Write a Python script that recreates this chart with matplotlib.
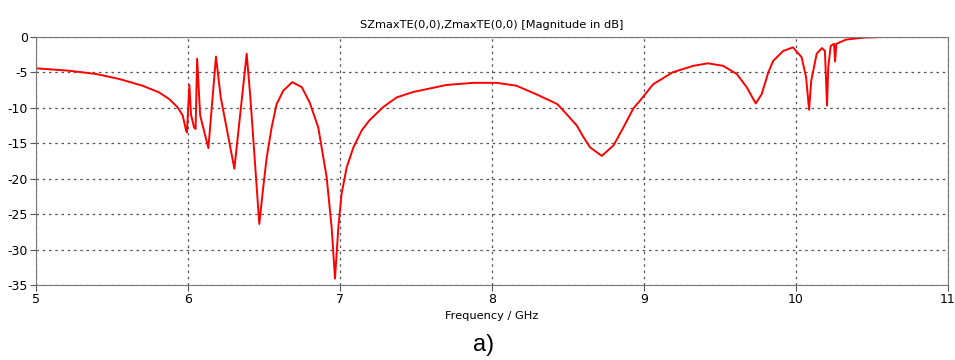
import numpy as np
import matplotlib.pyplot as plt

plt.rcParams['axes.unicode_minus'] = False

# frequency (GHz) and magnitude (dB)
freq = [5.0, 5.22, 5.395, 5.548, 5.70, 5.81, 5.877, 5.932, 5.965, 5.987, 5.993, 6.009,
        6.02, 6.04, 6.05, 6.06, 6.08, 6.134, 6.184, 6.215, 6.305, 6.386, 6.41, 6.469,
        6.495, 6.518, 6.55, 6.583, 6.627, 6.686, 6.748, 6.80, 6.857, 6.912, 6.945,
        6.967, 6.989, 7.01, 7.044, 7.088, 7.143, 7.193, 7.285, 7.373, 7.48, 7.70,
        7.877, 8.03, 8.16, 8.29, 8.43, 8.49, 8.557, 8.60, 8.645, 8.722, 8.80, 8.864,
        8.93, 8.974, 9.06, 9.19, 9.325, 9.42, 9.52, 9.61, 9.675, 9.735, 9.774, 9.818,
        9.85, 9.916, 9.98, 10.037, 10.066, 10.086, 10.10, 10.136, 10.17, 10.19,
        10.204, 10.212, 10.228, 10.25, 10.257, 10.265, 10.33, 10.45, 10.6, 11.0]
mag_db = [-4.45, -4.8, -5.25, -5.96, -6.9, -7.85, -8.8, -9.96, -11.1, -13.2, -13.5, -6.8,
          -11.0, -12.8, -13.0, -3.1, -11.1, -15.7, -2.8, -8.5, -18.6, -2.4, -8.5, -26.4,
          -21.2, -17.0, -12.8, -9.5, -7.6, -6.4, -7.1, -9.25, -12.8, -19.8, -26.9,
          -34.1, -26.9, -22.2, -18.4, -15.6, -13.2, -11.8, -9.9, -8.55, -7.8, -6.8,
          -6.5, -6.5, -6.9, -8.1, -9.5, -10.9, -12.5, -14.1, -15.6, -16.8, -15.3, -12.8,
          -10.1, -9.0, -6.7, -5.0, -4.1, -3.75, -4.1, -5.25, -7.1, -9.4, -8.1, -5.0,
          -3.4, -2.0, -1.5, -2.9, -5.7, -10.3, -6.2, -2.4, -1.6, -2.0,
          -9.7, -4.3, -1.3, -1.0, -3.5, -1.0, -0.4, -0.12, -0.02, 0.0]

# second trace, only visible as a short dark segment near 0 dB
freq2 = [10.4, 10.63]
mag2 = [-0.05, -0.05]

fig = plt.figure(figsize=(9.55, 3.6), dpi=100)
ax = fig.add_axes([0.0377, 0.2083, 0.955, 0.6897])

ax.plot(freq, mag_db, color='#ff0000', lw=1.4)
ax.plot(freq2, mag2, color='#5a1010', lw=1.4)

ax.set_xlim(5, 11)
ax.set_ylim(-35, 0)
ax.set_xticks(np.arange(5, 12, 1))
ax.set_yticks(np.arange(-35, 1, 5))
ax.grid(True, linestyle=(0, (2, 3)), color='#555555', lw=0.9)
ax.tick_params(labelsize=9, length=4, color='#555555', pad=2)
for s in ax.spines.values():
    s.set_color('#777777')

ax.set_title('SZmaxTE(0,0),ZmaxTE(0,0) [Magnitude in dB]', fontsize=8.2, pad=6)
ax.set_xlabel('Frequency / GHz', fontsize=8.2, labelpad=3)
fig.text(0.506, 0.042, 'a)', ha='center', va='center', fontsize=17,
         family='Liberation Sans')

plt.savefig('out.png', dpi=100)
